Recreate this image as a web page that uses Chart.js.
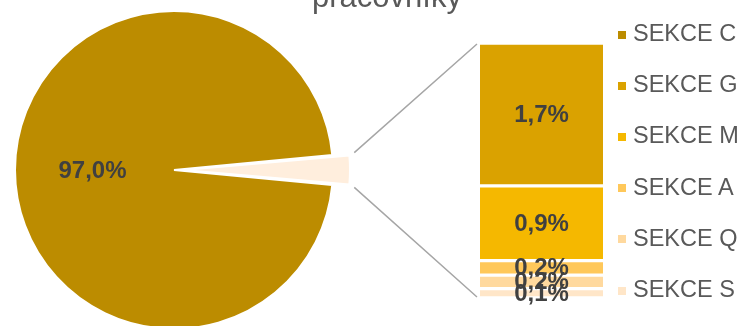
<!DOCTYPE html>
<html><head><meta charset="utf-8">
<script src="https://cdn.jsdelivr.net/npm/chart.js@4/dist/chart.umd.min.js"></script>
<style>
html,body{margin:0;padding:0;background:#fff;overflow:hidden;width:742px;height:326px;position:relative;font-family:"Liberation Sans",Arial,sans-serif;}
#pieWrap{position:absolute;left:0;top:0;width:400px;height:340px;}
#barWrap{position:absolute;left:330px;top:0;width:412px;height:326px;}
#title{position:absolute;left:237px;top:-19px;width:300px;text-align:center;font-size:31px;line-height:1;color:#595959;white-space:nowrap;}
.lg-box{position:absolute;width:8px;height:8px;}
.lg-txt{position:absolute;font-size:23.5px;line-height:1;color:#595959;white-space:nowrap;}
</style></head>
<body>
<div id="pieWrap"><canvas id="pie" width="400" height="340"></canvas></div>
<div id="barWrap"><canvas id="bar" width="412" height="326"></canvas></div>
<div id="title">pracovníky</div>
<div id="legend"></div>
<script>
// ---- data ----
const titleText = 'pracovníky';
const categories = ['SEKCE C', 'SEKCE G', 'SEKCE M', 'SEKCE A', 'SEKCE Q', 'SEKCE S'];
const shares = [97.0, 1.68, 0.88, 0.17, 0.16, 0.11];   // % of workers
const pieCategories = ['SEKCE C', 'Ostatní'];
const barCategories = categories.slice(1);
const barShares = shares.slice(1);

// ---- styles ----
const colors = ['#BC8C00', '#DAA200', '#F5B800', '#FFC85A', '#FFD99E', '#FFE6C8'];
const otherColor = '#FFEEDD';
const fmt = v => v.toFixed(1).replace('.', ',') + '%';
const FONT = '"Liberation Sans", Arial, sans-serif';
const EXPLODE = 17; // desired pixel shift of the exploded slice

const otherTotal = barShares.reduce((a, b) => a + b, 0);
const pieValues = [shares[0], otherTotal];
const total = pieValues[0] + pieValues[1];
// rotate so that the "other" slice points to the right
const rotation = 90 - (pieValues[0] + pieValues[1] / 2) / total * 360;
// Chart.js shifts an arc by offset/4*(2-sin(circumference)); invert it
const otherCirc = pieValues[1] / total * 2 * Math.PI;
const otherOffset = 4 * EXPLODE / (2 - Math.sin(Math.min(Math.PI, otherCirc)));

const pieLabelPlugin = {
  id: 'pieLabels',
  afterDatasetsDraw(chart) {
    const ctx = chart.ctx;
    const arc = chart.getDatasetMeta(0).data[0];
    const p = arc.tooltipPosition();
    ctx.save();
    ctx.font = 'bold 24px ' + FONT;
    ctx.fillStyle = '#404040';
    ctx.textAlign = 'center';
    ctx.textBaseline = 'middle';
    ctx.fillText(fmt(pieValues[0]), p.x - 2, p.y + 1);
    ctx.restore();
  }
};

const pieChart = new Chart(document.getElementById('pie'), {
  type: 'pie',
  data: {
    labels: pieCategories,
    datasets: [{
      data: pieValues,
      backgroundColor: [colors[0], otherColor],
      borderColor: '#ffffff',
      borderWidth: 2,
      offset: [0, otherOffset]
    }]
  },
  options: {
    responsive: false,
    devicePixelRatio: 1,
    animation: false,
    rotation: rotation,
    radius: 159,
    layout: { padding: { left: 0, top: 0, right: 52, bottom: 0 } },
    plugins: { legend: { display: false }, tooltip: { enabled: false } }
  },
  plugins: [pieLabelPlugin]
});

const CANVAS_LEFT = 330;
const barPlugin = {
  id: 'barExtras',
  afterDatasetsDraw(chart) {
    const ctx = chart.ctx;
    const n = barCategories.length;
    // connector lines from exploded slice to bar
    const arc = pieChart.getDatasetMeta(0).data[1];
    const mid = (arc.startAngle + arc.endAngle) / 2;
    const ox = arc.x + Math.cos(mid) * EXPLODE, oy = arc.y + Math.sin(mid) * EXPLODE;
    const r = arc.outerRadius + 5;
    const a1 = Math.min(arc.startAngle, arc.endAngle), a2 = Math.max(arc.startAngle, arc.endAngle);
    const topBar = chart.getDatasetMeta(n - 1).data[0];
    const botBar = chart.getDatasetMeta(0).data[0];
    const left = topBar.x - topBar.width / 2 - 3;
    ctx.save();
    ctx.strokeStyle = '#A6A6A6';
    ctx.lineWidth = 1.5;
    ctx.beginPath();
    ctx.moveTo(ox + Math.cos(a1) * r - CANVAS_LEFT, oy + Math.sin(a1) * r - 2);
    ctx.lineTo(left, topBar.y + 1);
    ctx.moveTo(ox + Math.cos(a2) * r - CANVAS_LEFT, oy + Math.sin(a2) * r + 2);
    ctx.lineTo(left, botBar.base - 1);
    ctx.stroke();
    // labels
    ctx.font = 'bold 24px ' + FONT;
    ctx.fillStyle = '#404040';
    ctx.textAlign = 'center';
    ctx.textBaseline = 'middle';
    for (let d = n - 1; d >= 0; d--) {
      const el = chart.getDatasetMeta(d).data[0];
      const val = chart.data.datasets[d].data[0];
      ctx.fillText(fmt(val), el.x, (el.y + el.base) / 2 + 1);
    }
    ctx.restore();
  }
};

// stacked bar: first dataset at bottom, so reverse
const barDatasets = barCategories.map((c, i) => ({
  label: c,
  data: [barShares[i]],
  backgroundColor: colors[i + 1],
  borderColor: '#ffffff',
  borderWidth: { top: 2, bottom: 2, left: 0, right: 0 },
  borderSkipped: false,
  barPercentage: 1,
  categoryPercentage: 1
})).reverse();

new Chart(document.getElementById('bar'), {
  type: 'bar',
  data: { labels: ['Ostatní'], datasets: barDatasets },
  options: {
    responsive: false,
    devicePixelRatio: 1,
    animation: false,
    layout: { padding: { left: 150, right: 139, top: 43, bottom: 28 } },
    scales: {
      x: { stacked: true, display: false },
      y: { stacked: true, display: false, min: 0, max: otherTotal }
    },
    plugins: { legend: { display: false }, tooltip: { enabled: false } }
  },
  plugins: [barPlugin]
});

// legend
const lg = document.getElementById('legend');
categories.forEach((c, i) => {
  const cy = 33.5 + 51.2 * i;
  const b = document.createElement('div');
  b.className = 'lg-box';
  b.style.left = '618px';
  b.style.top = (cy - 3) + 'px';
  b.style.background = colors[i];
  lg.appendChild(b);
  const t = document.createElement('div');
  t.className = 'lg-txt';
  t.style.left = '633px';
  t.style.top = (cy - 11.5) + 'px';
  t.textContent = c;
  lg.appendChild(t);
});
document.getElementById('title').textContent = titleText;
</script>
</body></html>
